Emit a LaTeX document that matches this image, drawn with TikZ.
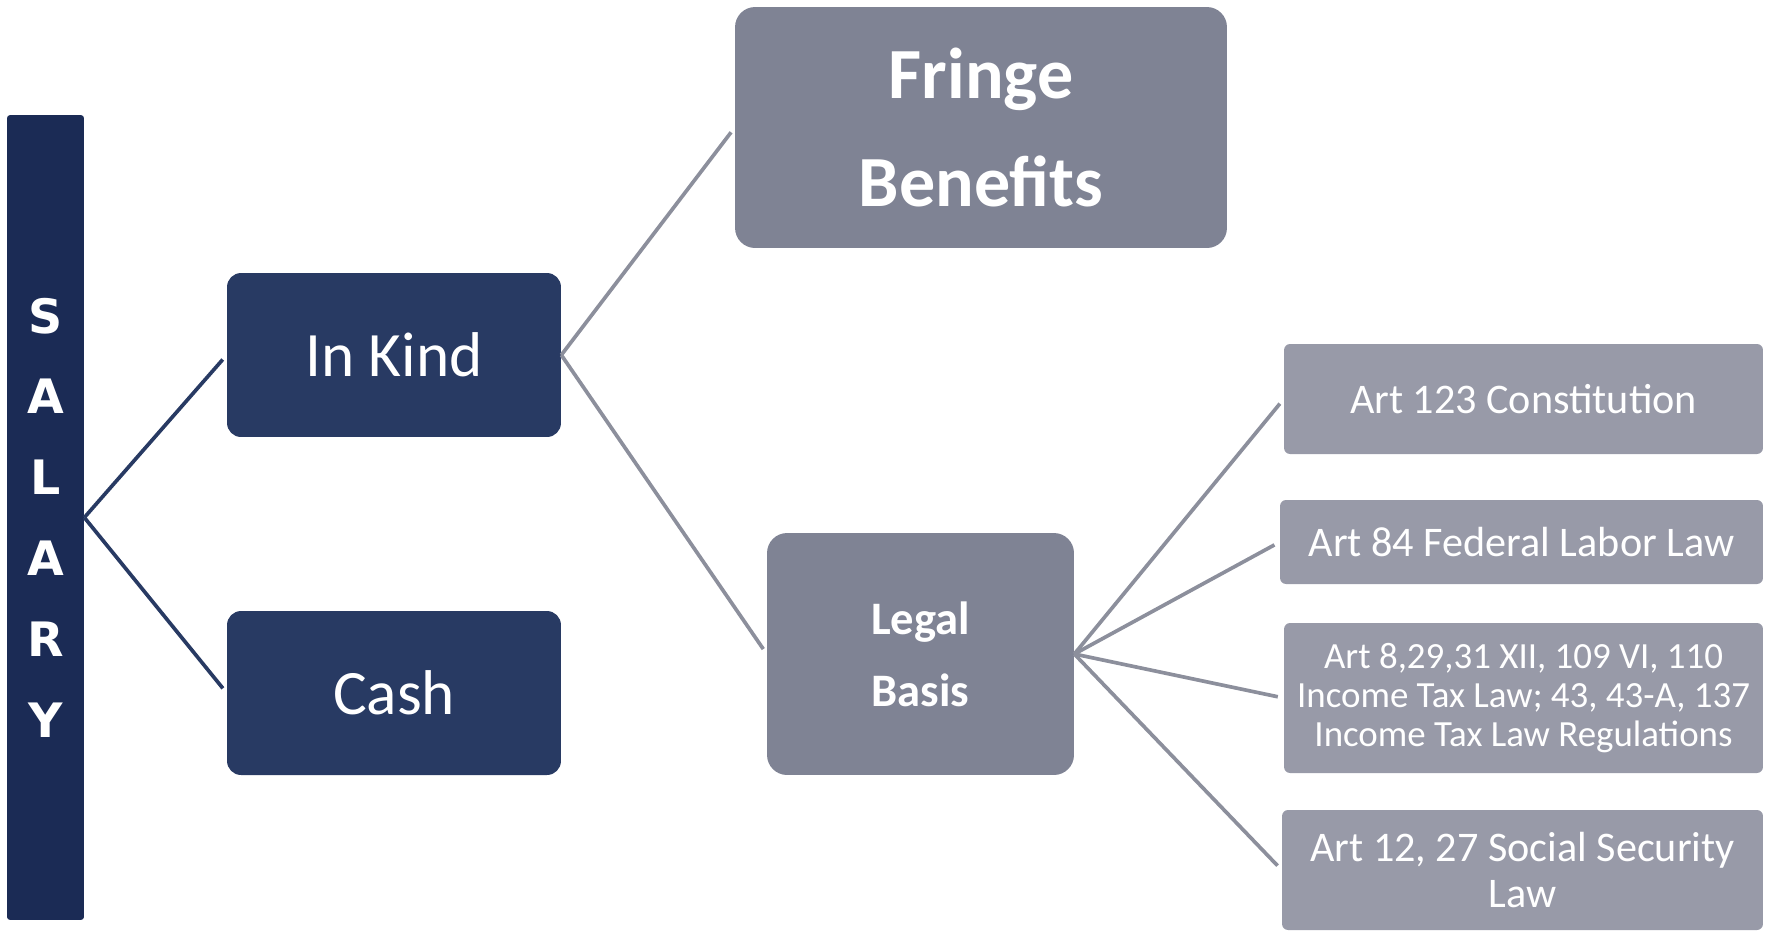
\documentclass[tikz,border=0pt]{standalone}
\usepackage{fontspec}
\setmainfont{Carlito}
\newfontfamily\barfont{DejaVu Sans}
\usepackage{xcolor}
\usepackage{tikz}

\definecolor{navybar}{HTML}{1B2B55}
\definecolor{navybox}{HTML}{283A63}
\definecolor{slatebox}{HTML}{7F8394}
\definecolor{greybox}{HTML}{989AA8}
\definecolor{greyline}{HTML}{8C8F9C}

\begin{document}
\begin{tikzpicture}[x=0.02cm,y=-0.02cm,
    every node/.style={text=white,align=center,inner sep=0pt},
    cat/.style={fill=navybox,rounded corners=0.28cm,minimum width=6.68cm,minimum height=3.28cm,
        font=\fontsize{36}{43}\selectfont},
    kind/.style={fill=slatebox,rounded corners=0.4cm},
    law/.style={fill=greybox,rounded corners=0.12cm,minimum width=9.58cm,
        font=\fontsize{24}{26}\selectfont},
    navylink/.style={draw=navybox,line width=2.1pt,shorten >=0.12cm},
    greylink/.style={draw=greyline,line width=2.1pt,shorten >=0.12cm}]
\useasboundingbox (0,0) rectangle (1771,931);
\node (salary) [fill=navybar,rounded corners=0.06cm,minimum width=1.54cm,minimum height=16.1cm,
    font=\barfont\bfseries\fontsize{27}{46}\selectfont] at (45.5,517.5) {S\\A\\L\\A\\R\\Y};
\node (inkind) [cat] at (394,355) {In Kind};
\node (cash) [cat] at (394,693) {Cash};
\node (fringe) [kind,minimum width=9.84cm,minimum height=4.82cm,
    font=\bfseries\fontsize{41}{61}\selectfont] at (981,127.5) {Fringe\\Benefits};
\node (legal) [kind,minimum width=6.14cm,minimum height=4.84cm,
    font=\bfseries\fontsize{26.5}{41}\selectfont] at (920.5,654) {Legal\\Basis};
\node (art123) [law,minimum height=2.2cm] at (1523.5,399) {Art 123 Constitution};
\node (art84) [law,minimum width=9.66cm,minimum height=1.68cm] at (1521.5,542) {Art 84 Federal Labor Law};
\node (art8) [law,minimum height=3cm,font=\fontsize{21}{22.4}\selectfont] at (1523.5,698)
    {Art 8,29,31 XII, 109 VI, 110\\Income Tax Law; 43, 43-A, 137\\Income Tax Law Regulations};
\node (art12) [law,minimum width=9.62cm,minimum height=2.4cm] at (1522.5,870) {Art 12, 27 Social Security\\Law};
\draw[navylink] (salary.east) -- (inkind.west);
\draw[navylink] (salary.east) -- (cash.west);
\draw[greylink] (inkind.east) -- (fringe.west);
\draw[greylink] (inkind.east) -- (legal.west);
\draw[greylink] (legal.east) -- (art123.west);
\draw[greylink] (legal.east) -- (art84.west);
\draw[greylink] (legal.east) -- (art8.west);
\draw[greylink] (legal.east) -- (art12.west);
\end{tikzpicture}
\end{document}
